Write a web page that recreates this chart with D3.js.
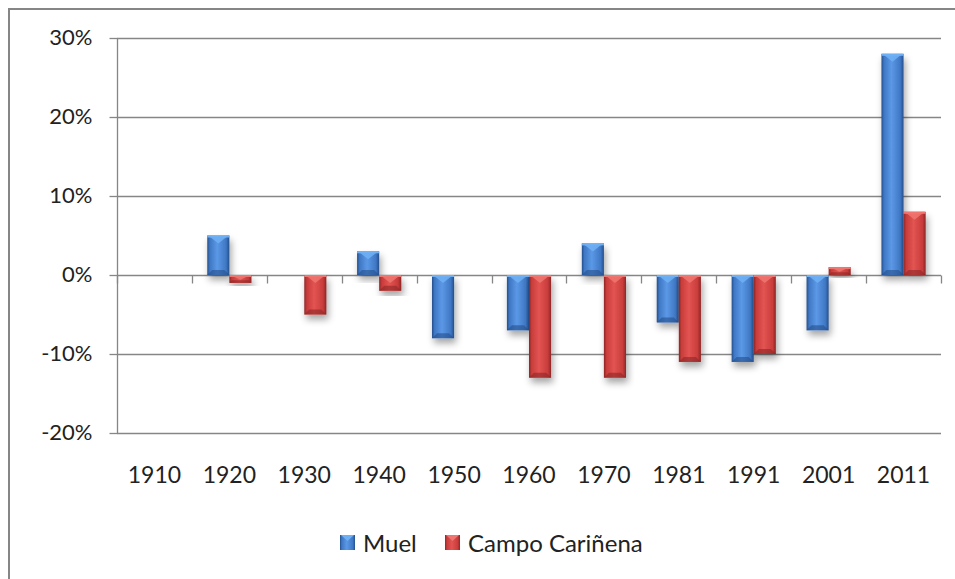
<!DOCTYPE html>
<html>
<head>
<meta charset="utf-8">
<script src="https://cdn.jsdelivr.net/npm/d3@7"></script>
<style>
  body { margin: 0; background: #fff; }
  svg text { font-family: Lato, "Open Sans", sans-serif; fill: #222; }
</style>
</head>
<body>
<div id="chart"></div>
<script>
var years = ["1910", "1920", "1930", "1940", "1950", "1960", "1970", "1981", "1991", "2001", "2011"];
var seriesNames = ["Muel", "Campo Cariñena"];
var muel = [null, 5, null, 3, -8, -7, 4, -6, -11, -7, 28];
var campo = [null, -1, -5, -2, null, -13, -13, -11, -10, 1, 8];
var yTicks = [-20, -10, 0, 10, 20, 30];

var width = 955,
    height = 579,
    plotLeft = 117,
    plotRight = 941,
    plotTop = 38,
    plotBottom = 433;

var colors = {
  "Muel": { mid: "#3f78c4", light: "#5b98e6", dark: "#244f8c", top: "#6fb0f5" },
  "Campo Cariñena": { mid: "#c93c3b", light: "#e25452", dark: "#8c2626", top: "#f07570" }
};

var svg = d3.select("#chart").append("svg")
    .attr("width", width)
    .attr("height", height);

var defs = svg.append("defs");
var shadow = defs.append("filter").attr("id", "shadow")
    .attr("x", "-40%").attr("y", "-30%").attr("width", "180%").attr("height", "160%");
shadow.append("feDropShadow")
    .attr("dx", 2).attr("dy", 5).attr("stdDeviation", 3.5)
    .attr("flood-color", "#000").attr("flood-opacity", 0.35);

seriesNames.forEach(function(s, i) {
  var c = colors[s];
  var g = defs.append("linearGradient").attr("id", "grad" + i)
      .attr("x1", 0).attr("x2", 1).attr("y1", 0).attr("y2", 0);
  g.append("stop").attr("offset", "0%").attr("stop-color", c.dark);
  g.append("stop").attr("offset", "12%").attr("stop-color", c.mid);
  g.append("stop").attr("offset", "45%").attr("stop-color", c.light);
  g.append("stop").attr("offset", "85%").attr("stop-color", c.mid);
  g.append("stop").attr("offset", "100%").attr("stop-color", c.dark);
});

// outer frame
svg.append("path")
    .attr("d", "M9,579 V9 H955")
    .attr("fill", "none")
    .attr("stroke", "#868686")
    .attr("stroke-width", 2);

var x0 = d3.scaleBand().domain(years).range([plotLeft, plotRight]).padding(0);
var groupW = x0.step() * 0.59;
var x1 = d3.scaleBand().domain(seriesNames).range([0, groupW]);
var y = d3.scaleLinear().domain([-20, 30]).range([plotBottom, plotTop]);

// gridlines
svg.append("g").selectAll("line")
  .data(yTicks)
  .enter().append("line")
    .attr("x1", plotLeft).attr("x2", plotRight)
    .attr("y1", function(d) { return Math.round(y(d)) + 0.5; })
    .attr("y2", function(d) { return Math.round(y(d)) + 0.5; })
    .attr("stroke", "#868686")
    .attr("stroke-width", 1.3);

// y axis
var yAxis = svg.append("g")
    .attr("transform", "translate(" + (plotLeft + 0.5) + ",0)")
    .call(d3.axisLeft(y).tickValues(yTicks).tickSize(8).tickPadding(17)
      .tickFormat(function(d) { return d + "%"; }));
yAxis.select(".domain").attr("d", "M0," + plotTop + "V" + plotBottom);
yAxis.selectAll("path, line").attr("stroke", "#868686").attr("stroke-width", 1.3);
yAxis.selectAll("text").style("font-size", "22px").attr("fill", "#222").attr("dy", "0.3em");

// x axis ticks along zero line
var xAxis = svg.append("g")
    .attr("transform", "translate(0," + (Math.round(y(0)) + 0.5) + ")");
xAxis.selectAll("line.tick")
  .data(d3.range(years.length + 1))
  .enter().append("line")
    .attr("class", "tick")
    .attr("x1", function(i) { return Math.round(plotLeft + i * x0.step()) + 0.5; })
    .attr("x2", function(i) { return Math.round(plotLeft + i * x0.step()) + 0.5; })
    .attr("y1", 0).attr("y2", 8)
    .attr("stroke", "#868686").attr("stroke-width", 1.3);

svg.append("g").selectAll("text")
  .data(years)
  .enter().append("text")
    .attr("x", function(d) { return x0(d) + x0.bandwidth() / 2; })
    .attr("y", 483)
    .attr("text-anchor", "middle")
    .style("font-size", "23px")
    .text(function(d) { return d; });

// bars
var data = [];
years.forEach(function(yr, i) {
  [muel[i], campo[i]].forEach(function(v, k) {
    if (v !== null) data.push({ year: yr, series: seriesNames[k], idx: k, value: v });
  });
});

var bars = svg.append("g").selectAll("g.bar")
  .data(data)
  .enter().append("g")
    .attr("class", "bar")
    .attr("transform", function(d) {
      return "translate(" + (x0(d.year) + (x0.step() - groupW) / 2 + x1(d.series)) + ",0)";
    });

bars.each(function(d) {
  var g = d3.select(this);
  var w = x1.bandwidth();
  var yTop = y(Math.max(0, d.value));
  var yBot = y(Math.min(0, d.value));
  var h = Math.max(yBot - yTop, 1);
  var c = colors[d.series];

  g.append("rect")
      .attr("x", 0).attr("y", yTop)
      .attr("width", w).attr("height", h)
      .attr("fill", "url(#grad" + d.idx + ")")
      .attr("filter", "url(#shadow)");

  // lower bevel
  var bev = Math.min(5, h / 3);
  g.append("path")
      .attr("d", "M0," + (yTop + h) + " L" + bev + "," + (yTop + h - bev) +
        " H" + (w - bev) + " L" + w + "," + (yTop + h) + " Z")
      .attr("fill", c.dark).attr("opacity", 0.6);

  // top chevron highlight
  var ch = Math.min(8, h * 0.6);
  g.append("path")
      .attr("d", "M1," + yTop + " H" + (w - 1) + " L" + (w / 2) + "," + (yTop + ch) + " Z")
      .attr("fill", c.top).attr("opacity", 0.85);
  g.append("rect")
      .attr("x", 0).attr("y", yTop)
      .attr("width", w).attr("height", Math.min(2, h))
      .attr("fill", c.top);
});

// legend
var legend = svg.append("g").selectAll("g")
  .data(seriesNames)
  .enter().append("g")
    .attr("transform", function(d, i) { return "translate(" + [340, 445][i] + ",535)"; });
legend.append("rect")
    .attr("width", 15).attr("height", 15)
    .attr("fill", function(d, i) { return "url(#grad" + i + ")"; });
legend.append("path")
    .attr("d", "M1,0 H14 L7.5,6 Z")
    .attr("fill", function(d) { return colors[d].top; });
legend.append("text")
    .attr("x", 23).attr("y", 17)
    .style("font-size", "24px")
    .text(function(d) { return d; });
</script>
</body>
</html>
